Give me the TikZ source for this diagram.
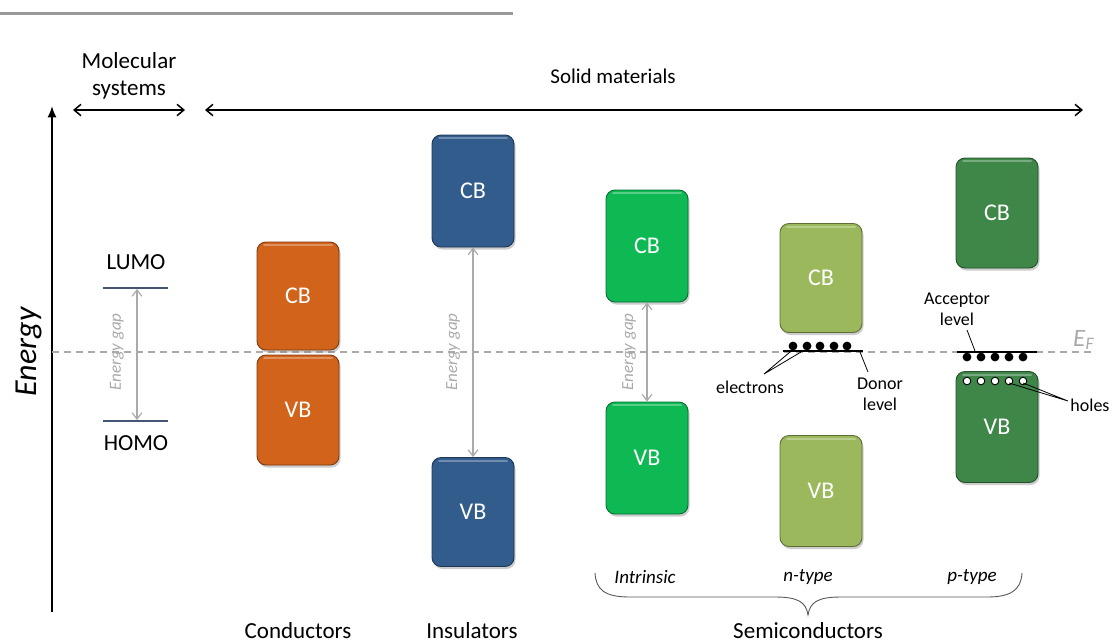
\documentclass[tikz,border=0pt]{standalone}
\usepackage{fontspec}
\setmainfont{Carlito}
\usetikzlibrary{arrows.meta,shadows}
\definecolor{condc}{RGB}{209,99,26}
\definecolor{insc}{RGB}{49,92,140}
\definecolor{intc}{RGB}{14,185,84}
\definecolor{ntc}{RGB}{155,185,92}
\definecolor{ptc}{RGB}{62,135,72}
\definecolor{gapc}{RGB}{170,170,170}
\definecolor{lvlc}{RGB}{70,85,115}
\tikzset{
  band/.style={rectangle,rounded corners=9pt,fill=#1,draw=#1!60!black,line width=0.9pt,
    minimum width=82pt,minimum height=110pt,inner sep=0pt,text=white,
    font=\fontsize{24}{28}\selectfont,
    path picture={\draw[white,opacity=0.3,line width=2pt,line cap=round]
      ([xshift=7pt,yshift=-3pt]path picture bounding box.north west) --
      ([xshift=-7pt,yshift=-3pt]path picture bounding box.north east);},
    drop shadow={shadow xshift=1.5pt,shadow yshift=-2.5pt,opacity=0.4}},
  lab/.style={font=\fontsize{23}{27}\selectfont,align=center,inner sep=0pt},
  sub/.style={font=\fontsize{19}{23}\selectfont\itshape,inner sep=0pt},
  note/.style={font=\fontsize{18}{21}\selectfont,align=center,inner sep=0pt},
  gaplab/.style={font=\fontsize{17}{18}\selectfont\itshape,text=gapc,rotate=90,inner sep=0pt},
  gap/.style={{Straight Barb[length=2.2mm,width=3.4mm]}-{Straight Barb[length=2.2mm,width=3.4mm]},gapc,line width=1.2pt},
  span/.style={{Straight Barb[length=2.4mm,width=4mm]}-{Straight Barb[length=2.4mm,width=4mm]},line width=1.5pt},
  lvl/.style={lvlc,line width=1.6pt},
  dop/.style={line width=2.6pt},
  ptr/.style={line width=0.8pt},
}
\begin{document}
\begin{tikzpicture}[x=1pt,y=-1pt]
  \useasboundingbox (0,0) rectangle (1113,643);
  \draw[black!40,line width=3pt] (0,13) -- (513,13);
  % energy axis and Fermi level
  \coordinate (ebot) at (52,612);
  \coordinate (etop) at (52,106);
  \draw[line width=2pt,-{Latex[length=4mm,width=3.2mm]}] (ebot) -- (etop);
  \node[rotate=90,inner sep=0pt,font=\fontsize{32}{34}\selectfont\itshape] (energy) at (29,352) {Energy};
  \coordinate (ef0) at (52,352);
  \coordinate (ef1) at (1095,352);
  \draw[gapc,dash pattern=on 7pt off 5pt,line width=1.6pt] (ef0) -- (ef1);
  \node[anchor=base west,inner sep=0pt,font=\fontsize{25}{26}\selectfont,text=gapc] (ef) at (1073,346) {\textit{E}\textsubscript{\textit{F}}};
  % top spans
  \node[lab] (mol) at (129,76) {Molecular\\systems};
  \coordinate (m0) at (73,110);
  \coordinate (m1) at (185,110);
  \draw[span] (m0) -- (m1);
  \node[lab,font=\fontsize{21}{25}\selectfont] (solid) at (613,76) {Solid materials};
  \coordinate (s0) at (205,110);
  \coordinate (s1) at (1083,110);
  \draw[span] (s0) -- (s1);
  % molecular levels
  \coordinate (lumoL) at (103,288);
  \coordinate (lumoR) at (168,288);
  \coordinate (homoL) at (103,421);
  \coordinate (homoR) at (168,421);
  \draw[lvl] (lumoL) -- (lumoR);
  \draw[lvl] (homoL) -- (homoR);
  \node[lab] (lumo) at (136,262) {LUMO};
  \node[lab] (homo) at (136,443) {HOMO};
  \coordinate (mg0) at (137,289);
  \coordinate (mg1) at (137,420);
  \draw[gap] (mg0) -- (mg1);
  \node[gaplab] (mgl) at (117,352) {Energy gap};
  % conductors
  \node[band=condc,minimum height=108pt] (ccb) at (298,296) {CB};
  \node[band=condc] (cvb) at (298,410) {VB};
  % insulators
  \node[band=insc,minimum height=112pt] (icb) at (473,191) {CB};
  \node[band=insc,minimum height=109pt] (ivb) at (473,512) {VB};
  \draw[gap] (icb.south) -- (ivb.north);
  \node[gaplab] (igl) at (453,352) {Energy gap};
  % intrinsic
  \node[band=intc,minimum height=112pt] (ncb) at (647,246) {CB};
  \node[band=intc,minimum height=112pt] (nvb) at (647,458) {VB};
  \draw[gap] (ncb.south) -- (nvb.north);
  \node[gaplab] (ngl) at (629,352) {Energy gap};
  % n-type
  \node[band=ntc,minimum height=109pt] (dcb) at (821,278) {CB};
  \node[band=ntc,minimum height=111pt] (dvb) at (821,491) {VB};
  \coordinate (dn0) at (783,351);
  \coordinate (dn1) at (863,351);
  \draw[dop] (dn0) -- (dn1);
  \foreach \x in {793,807,820,834,847}{
     \fill (\x,346) circle (4.4pt);}
  \node[note] (elec) at (750,387) {electrons};
  \node[note] (donor) at (880,394) {Donor\\level};
  \coordinate (ep) at (764,374);
  \coordinate (ep1) at (790,352);
  \coordinate (ep2) at (801,352);
  \draw[ptr] (ep1) -- (ep) -- (ep2);
  \coordinate (dp) at (868,372);
  \coordinate (dp1) at (860,352);
  \draw[ptr] (dp) -- (dp1);
  % p-type
  \node[band=ptc,minimum height=110pt] (acb) at (997,213) {CB};
  \node[band=ptc,minimum height=111pt] (avb) at (997,427) {VB};
  \coordinate (ac0) at (957,352);
  \coordinate (ac1) at (1037,352);
  \draw[dop] (ac0) -- (ac1);
  \foreach \x in {967,981,995,1009,1023}{
     \fill (\x,357) circle (4.4pt);
     \filldraw[fill=white,draw=black,line width=0.9pt] (\x,381) circle (3.8pt);}
  \node[note] (acc) at (957,309) {Acceptor\\level};
  \coordinate (apt) at (967,330);
  \coordinate (apt1) at (975,351);
  \draw[ptr] (apt) -- (apt1);
  \node[note] (holes) at (1090,405) {holes};
  \coordinate (hp) at (1068,401);
  \coordinate (hp1) at (1009,383);
  \coordinate (hp2) at (1023,383);
  \draw[ptr] (hp1) -- (hp) -- (hp2);
  % semiconductor brace and labels
  \node[sub] (intr) at (645,577) {Intrinsic};
  \node[sub] (ntype) at (808,577) {n-type};
  \node[sub] (ptype) at (972,577) {p-type};
  \coordinate (br0) at (595,573);
  \coordinate (brt) at (808,615);
  \coordinate (br1) at (1022,573);
  \draw[black!65,line width=0.9pt] (br0) .. controls (596,590) and (605,597) .. (630,597) -- (775,597)
     .. controls (798,597) and (806,602) .. (brt)
     .. controls (810,602) and (818,597) .. (841,597) -- (987,597)
     .. controls (1011,597) and (1021,590) .. (br1);
  \node[lab,anchor=base] (condl) at (298,638) {Conductors};
  \node[lab,anchor=base] (insl) at (472,638) {Insulators};
  \node[lab,anchor=base] (semi) at (808,638) {Semiconductors};
\end{tikzpicture}
\end{document}
